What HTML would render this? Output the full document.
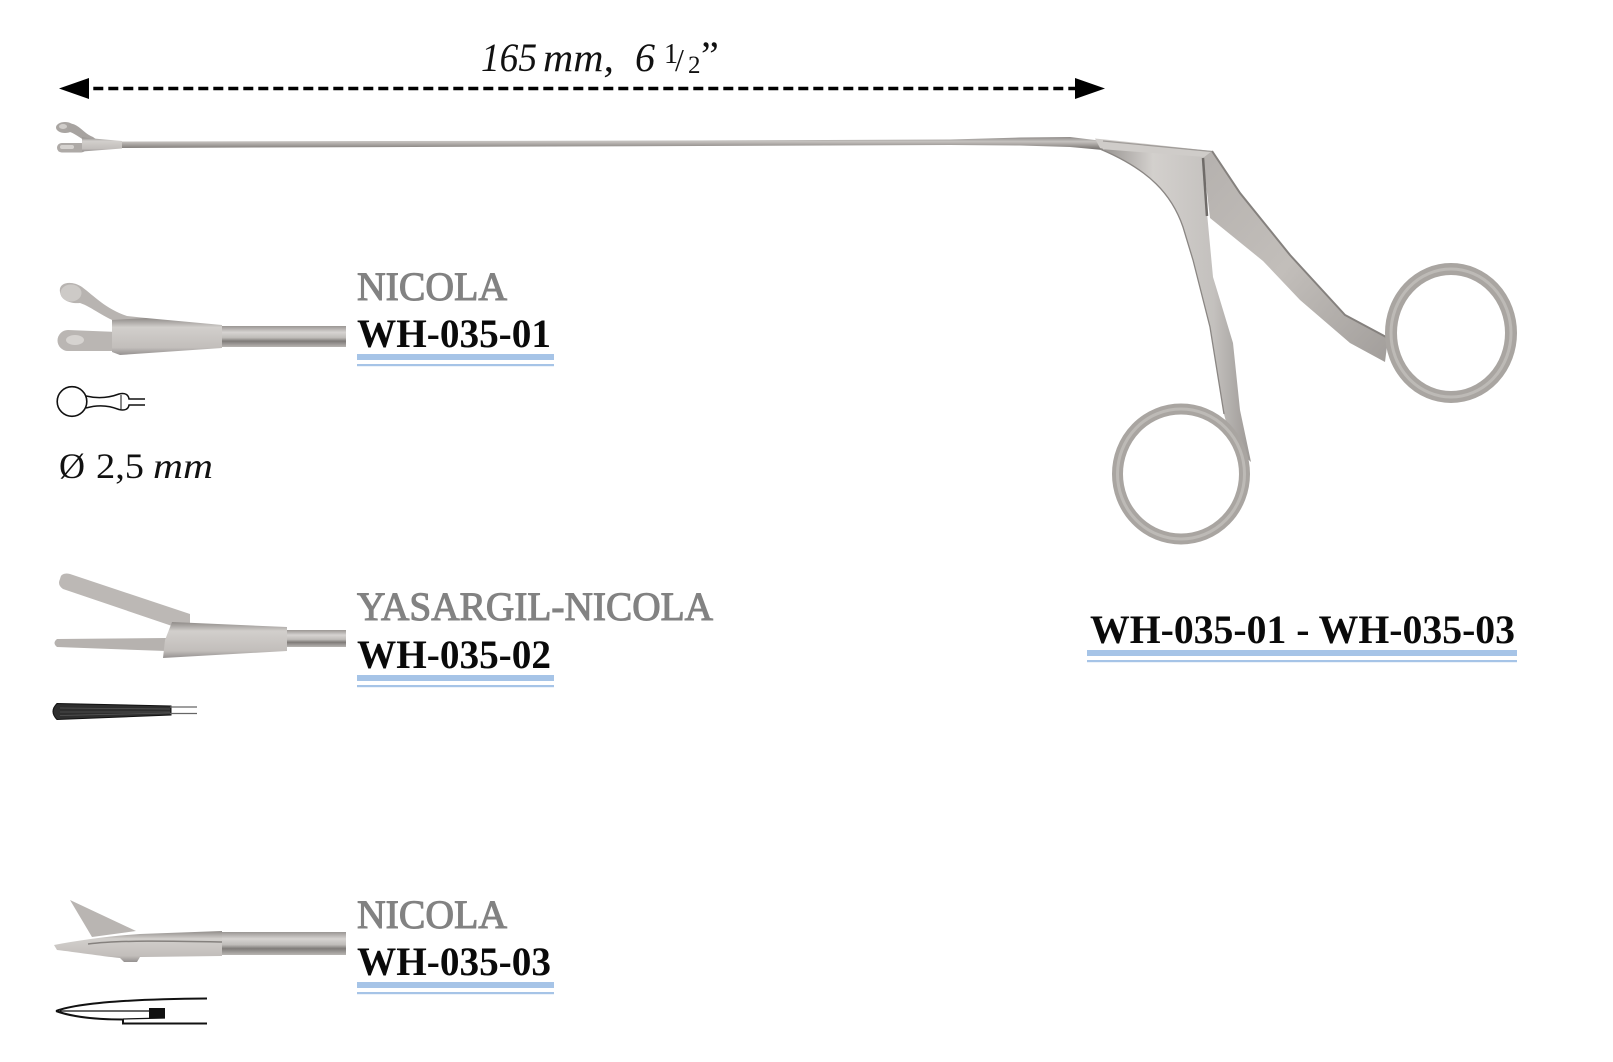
<!DOCTYPE html>
<html><head><meta charset="utf-8">
<style>
html,body{margin:0;padding:0;background:#ffffff;}
svg{display:block;}
</style></head><body>
<svg width="1613" height="1062" viewBox="0 0 1613 1062" xmlns="http://www.w3.org/2000/svg">
<defs>
 <linearGradient id="rod" x1="0" y1="0" x2="0" y2="1">
  <stop offset="0" stop-color="#9a9693"/>
  <stop offset="0.3" stop-color="#d6d3d1"/>
  <stop offset="0.55" stop-color="#c0bdba"/>
  <stop offset="0.72" stop-color="#7f7b78"/>
  <stop offset="1" stop-color="#b8b5b2"/>
 </linearGradient>
 <linearGradient id="mainrod" x1="0" y1="0" x2="0" y2="1">
  <stop offset="0" stop-color="#8e8a87"/>
  <stop offset="0.35" stop-color="#c5c2bf"/>
  <stop offset="0.65" stop-color="#9e9a97"/>
  <stop offset="1" stop-color="#6f6b68"/>
 </linearGradient>
 <linearGradient id="body" x1="0" y1="0" x2="0" y2="1">
  <stop offset="0" stop-color="#8f8b88"/>
  <stop offset="0.25" stop-color="#d2cfcc"/>
  <stop offset="0.8" stop-color="#c2bebb"/>
  <stop offset="1" stop-color="#959190"/>
 </linearGradient>
 <linearGradient id="fixedh" x1="0" y1="0" x2="1" y2="0">
  <stop offset="0" stop-color="#95918e"/>
  <stop offset="0.35" stop-color="#d3d0cd"/>
  <stop offset="0.75" stop-color="#c4c1be"/>
  <stop offset="1" stop-color="#9d9996"/>
 </linearGradient>
 <linearGradient id="movh" x1="0" y1="0" x2="1" y2="1">
  <stop offset="0" stop-color="#b5b1ae"/>
  <stop offset="0.5" stop-color="#c2beba"/>
  <stop offset="1" stop-color="#a29e9b"/>
 </linearGradient>
</defs>

<!-- Dimension arrow -->
<line x1="78.3" y1="88.5" x2="1080" y2="88.5" stroke="#000" stroke-width="3.6" stroke-dasharray="10 5"/>
<polygon points="59,88.5 89,78 89,99" fill="#000"/>
<polygon points="1105,88.5 1075,78 1075,99" fill="#000"/>

<!-- Dimension text -->
<g font-family="'Liberation Serif', serif" font-style="italic" fill="#111">
 <text x="481" y="71" font-size="40" textLength="56" lengthAdjust="spacingAndGlyphs">165</text>
 <text x="543" y="71" font-size="40" textLength="71" lengthAdjust="spacingAndGlyphs">mm,</text>
 <text x="635" y="71" font-size="40">6</text>
 <text x="664" y="63" font-size="28" font-style="normal">1</text>
 <text x="675" y="71" font-size="32" font-style="normal">/</text>
 <text x="688" y="73" font-size="25" font-style="normal">2</text>
 <text x="701" y="69" font-size="40" font-style="normal">”</text>
</g>

<!-- Main instrument: long shaft -->
<path d="M120,141.5 L700,140.5 L950,139.5 L1020,137.5 L1070,137 L1103,141 L1103,150 L1070,147 L1020,145.5 L950,145 L700,146 L120,148 Z" fill="url(#mainrod)"/>
<!-- tip -->
<ellipse cx="65" cy="127.5" rx="9" ry="5.5" fill="#a9a5a2"/>
<ellipse cx="63" cy="126.5" rx="4" ry="2.5" fill="#d0cdca"/>
<path d="M70,123.5 C79,124 83,133 93,137 L97,140 L87,141.5 C79,138 74,132 67,131.5 Z" fill="#a7a3a0"/>
<rect x="57" y="143" width="29" height="9.5" rx="4.7" fill="#aeaaa7"/>
<rect x="60" y="145" width="14" height="4" rx="2" fill="#d6d3d0"/>
<polygon points="82,137.5 122,141 122,148.5 82,151.5" fill="url(#body)"/>

<!-- handle block top -->
<path d="M1095,138.5 L1110,140 L1212,151 L1206,158 L1110,151 L1100,148 Z" fill="#cfccc9"/>
<path d="M1103,141 L1212,151.5" stroke="#9f9b98" stroke-width="1.2" fill="none"/>
<path d="M1105,151 L1204,158" stroke="#85817e" stroke-width="1.5" fill="none"/>

<!-- fixed handle -->
<path d="M1100,149 L1205,157 L1207,213 L1213,277 L1220,300 L1233,343 L1240,410 L1251,462 L1232,445 L1224,414 L1210,327 L1193,260 L1183,227 C1172,195 1150,170 1100,149 Z" fill="url(#fixedh)"/>
<path d="M1100,149 C1150,170 1172,195 1183,227 L1193,260 L1210,327 L1224,414" stroke="#8a8683" stroke-width="1.3" fill="none"/>

<!-- movable handle -->
<path d="M1203,158 L1212,151 L1240,193 L1290,255 L1345,315 L1388,338 L1385,362 L1350,343 L1300,300 L1263,261 L1210,218 Z" fill="url(#movh)"/>
<path d="M1212,151 L1240,193 L1290,255 L1345,315 L1388,338" stroke="#85817e" stroke-width="2" fill="none"/>
<path d="M1203,158 L1207,216" stroke="#6f6b68" stroke-width="2.5" fill="none"/>

<!-- rings -->
<ellipse cx="1451" cy="333" rx="60" ry="64" fill="none" stroke="#a9a5a1" stroke-width="12"/>
<ellipse cx="1451" cy="333" rx="60" ry="64" fill="none" stroke="#bdbab6" stroke-width="3"/>
<ellipse cx="1181" cy="474" rx="63.5" ry="65" fill="none" stroke="#a9a5a1" stroke-width="11"/>
<ellipse cx="1181" cy="474" rx="63.5" ry="65" fill="none" stroke="#bdbab6" stroke-width="3"/>

<!-- Item 1 instrument -->
<path d="M60,292 C58,282 72,280 82,287 C94,296 106,309 127,316 L146,318 L146,324 L122,324 C104,318 92,307 80,303 C70,304 61,300 60,292 Z" fill="#b8b4b1"/>
<ellipse cx="71" cy="293" rx="10.5" ry="8.5" fill="#cdcac7"/>
<path d="M68,330 L118,332 L118,351 L68,351 A10.5,10.5 0 0 1 68,330 Z" fill="#bab6b3"/>
<ellipse cx="75" cy="340" rx="9" ry="5" fill="#d6d3d0"/>
<polygon points="112,320 146,318 222,325 222,348 120,355 112,352" fill="url(#body)"/>
<rect x="222" y="326" width="124" height="21" fill="url(#rod)"/>

<!-- Item 1 diagram -->
<circle cx="72" cy="401.5" r="14.8" fill="none" stroke="#111" stroke-width="1.6"/>
<path d="M86,396 Q103,400 119,394 Q128,392 129,399 L145,399" fill="none" stroke="#111" stroke-width="1.5"/>
<path d="M86,408 Q103,403 119,409.5 Q128,411.5 129,405 L145,405" fill="none" stroke="#111" stroke-width="1.5"/>
<line x1="121" y1="395" x2="121" y2="409" stroke="#111" stroke-width="1"/>

<!-- Ø 2,5 mm -->
<text x="59" y="478" font-family="'Liberation Serif', serif" font-size="36" fill="#111">Ø</text>
<text x="96" y="478" font-family="'Liberation Serif', serif" font-size="36" fill="#111" textLength="48" lengthAdjust="spacingAndGlyphs">2,5</text>
<text x="153" y="478" font-family="'Liberation Serif', serif" font-style="italic" font-size="36" fill="#111" textLength="60" lengthAdjust="spacingAndGlyphs">mm</text>

<!-- Item 2 instrument -->
<path d="M60,579 Q61,572 70,574 L190,614 L190,628 L175,627 L63,589 Q57,585 60,579 Z" fill="#bcb8b5"/>
<path d="M57,639 L166,638 L166,651 L57,647 Q52,643 57,639 Z" fill="#b6b2af"/>
<polygon points="172,622 287,627 287,651 163,658 165,640" fill="url(#body)"/>
<rect x="287" y="630" width="59" height="17" fill="url(#rod)"/>

<!-- Item 2 diagram -->
<path d="M57,703.5 L171,706 L171,715 L57,719.5 Q49,711.5 57,703.5 Z" fill="#2e2e2e" stroke="#111" stroke-width="1"/>
<path d="M60,708 L170,709 M60,712 L170,712 M60,715.5 L170,713" stroke="#555" stroke-width="0.8"/>
<line x1="170" y1="707" x2="197" y2="707" stroke="#666" stroke-width="1.2"/>
<line x1="170" y1="713.5" x2="197" y2="713.5" stroke="#666" stroke-width="1.2"/>

<!-- Item 3 instrument -->
<polygon points="70,900 136,931 92,937" fill="#b9b5b2"/>
<path d="M54,945 C80,940 110,936 140,934 L222,931 L222,956 L140,957 L137,962 L124,962 L120,958 C100,956 75,952 57,950 Z" fill="url(#body)"/>
<path d="M88,944 C120,940 170,941 222,942" stroke="#85817e" stroke-width="1.5" fill="none"/>
<rect x="222" y="932" width="124" height="23" fill="url(#rod)"/>

<!-- Item 3 diagram -->
<path d="M56,1011 C80,1002 140,999 207,998.5" fill="none" stroke="#111" stroke-width="2"/>
<path d="M56,1011 C75,1018 100,1019.5 123,1019.5 L123,1023.5 L207,1023.5" fill="none" stroke="#111" stroke-width="2"/>
<path d="M60,1011 L149,1011" stroke="#111" stroke-width="1.2"/>
<rect x="149" y="1008" width="16" height="10" fill="#111"/>
<path d="M123,1019 L165,1018" stroke="#111" stroke-width="1.2"/>

<!-- Labels -->
<g font-family="'Liberation Serif', serif">
 <text x="357" y="300" font-size="40" fill="#828282" stroke="#828282" stroke-width="1.1" textLength="150" lengthAdjust="spacingAndGlyphs">NICOLA</text>
 <text x="357" y="347" font-size="40" font-weight="bold" fill="#0a0a0a" textLength="194" lengthAdjust="spacingAndGlyphs">WH-035-01</text>

 <text x="357" y="620" font-size="40" fill="#828282" stroke="#828282" stroke-width="1.1" textLength="356" lengthAdjust="spacingAndGlyphs">YASARGIL-NICOLA</text>
 <text x="357" y="668" font-size="40" font-weight="bold" fill="#0a0a0a" textLength="194" lengthAdjust="spacingAndGlyphs">WH-035-02</text>

 <text x="357" y="928" font-size="40" fill="#828282" stroke="#828282" stroke-width="1.1" textLength="150" lengthAdjust="spacingAndGlyphs">NICOLA</text>
 <text x="357" y="975" font-size="40" font-weight="bold" fill="#0a0a0a" textLength="194" lengthAdjust="spacingAndGlyphs">WH-035-03</text>

 <text x="1090" y="643" font-size="40" font-weight="bold" fill="#0a0a0a" textLength="425" lengthAdjust="spacingAndGlyphs">WH-035-01 - WH-035-03</text>
</g>

<!-- Underlines -->
<g fill="#a6c4e7">
 <rect x="357" y="354" width="197" height="6"/>
 <rect x="357" y="364" width="197" height="2.2"/>
 <rect x="357" y="675" width="197" height="6"/>
 <rect x="357" y="685" width="197" height="2.2"/>
 <rect x="357" y="982" width="197" height="6"/>
 <rect x="357" y="992" width="197" height="2.2"/>
 <rect x="1087" y="650" width="430" height="6"/>
 <rect x="1087" y="660" width="430" height="2.2"/>
</g>
</svg>
</body></html>
